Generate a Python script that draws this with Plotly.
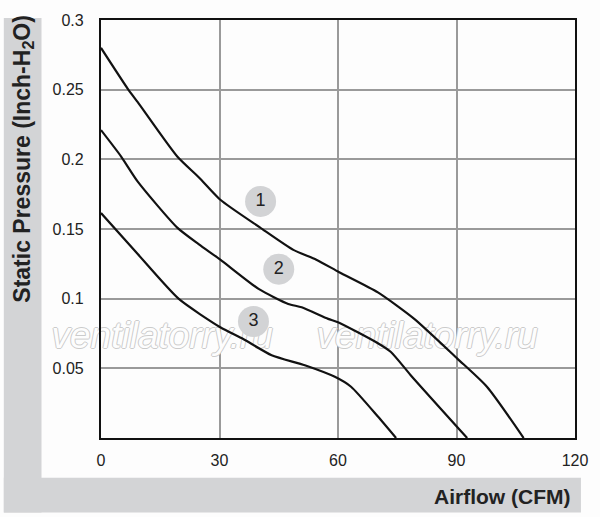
import plotly.graph_objects as go

# curve data (CFM vs inch H2O)
flow_1 = [0, 6.7, 9.3, 19.3, 24.8, 30.2, 40.3, 48.7, 54.5, 60.3, 70.1, 79.3, 90.2, 97.7, 107]
pres_1 = [0.28, 0.251, 0.241, 0.202, 0.187, 0.171, 0.151, 0.135, 0.128, 0.119, 0.1045, 0.0855, 0.057, 0.0368, 0.0]

flow_2 = [0, 5.1, 9.3, 19.3, 24.8, 30.2, 39.9, 47.4, 50.8, 57.5, 60, 70.1, 73.4, 78.4, 92.7]
pres_2 = [0.221, 0.202, 0.184, 0.151, 0.139, 0.128, 0.107, 0.0962, 0.0938, 0.0855, 0.0831, 0.068, 0.0617, 0.0451, 0.0]

flow_3 = [0, 9.3, 19.7, 30.2, 36, 43.2, 51.6, 59.2, 63.3, 70.1, 74.7]
pres_3 = [0.1615, 0.132, 0.0998, 0.0795, 0.071, 0.0594, 0.0522, 0.0439, 0.0368, 0.0154, 0.0]

label_names = ["1", "2", "3"]
label_x = [40.4, 45, 38.6]
label_y = [0.1698, 0.1212, 0.0836]

# watermark positions (in data units)
mark_x = [15.5, 82.6]
mark_y = [0.0715, 0.0715]

x_ticks = [0, 30, 60, 90, 120]
y_ticks = [0.05, 0.1, 0.15, 0.2, 0.25, 0.3]
y_tick_text = ["0.05", "0.1", "0.15", "0.2", "0.25", "0.3"]

W, H = 600, 517
L, R, T, B = 101, 21, 17, 79
band = "#d3d4d6"
FONT = "Liberation Sans, Arial"

def px(x):
    return (x - L) / (W - L - R)

def py(y):
    return (H - B - y) / (H - T - B)

fig = go.Figure()

# watermark first so the curves sit over it
fig.add_trace(go.Scatter(x=mark_x, y=mark_y, mode="text", text=["ventilatorry.ru"] * 2,
                         textposition="middle center", cliponaxis=False,
                         textfont=dict(family=FONT, size=37, color="#fdfdfd", style="italic",
                                       shadow="1px 0 0 #cbcbcb, -1px 0 0 #cbcbcb, 0 1px 0 #cbcbcb, 0 -1px 0 #cbcbcb"),
                         showlegend=False, hoverinfo="skip"))

for fx, fy in [(flow_1, pres_1), (flow_2, pres_2), (flow_3, pres_3)]:
    fig.add_trace(go.Scatter(x=fx, y=fy, mode="lines",
                             line=dict(color="#111111", width=2.2, shape="spline", smoothing=0.6),
                             showlegend=False, hoverinfo="skip"))

fig.add_trace(go.Scatter(x=label_x, y=label_y, mode="markers+text", text=label_names,
                         textposition="middle center",
                         marker=dict(size=31, color="#d2d3d5"),
                         textfont=dict(family=FONT, size=18, color="#222222"),
                         showlegend=False, hoverinfo="skip"))

# gray L-shaped bands behind the axis titles
fig.add_shape(type="rect", xref="paper", yref="paper", layer="below",
              x0=px(3), x1=px(41), y0=py(513), y1=py(15),
              fillcolor=band, line_width=0)
fig.add_shape(type="rect", xref="paper", yref="paper", layer="below",
              x0=px(3), x1=px(585), y0=py(513), y1=py(478),
              fillcolor=band, line_width=0)

fig.add_annotation(xref="paper", yref="paper", x=px(22), y=py(10), xanchor="center", yanchor="top",
                   text="<b>Static Pressure (Inch-H<sub>2</sub>O)</b>", textangle=-90,
                   showarrow=False, font=dict(family=FONT, size=23, color="#222222"))
fig.add_annotation(xref="paper", yref="paper", x=px(576), y=py(497), xanchor="right", yanchor="middle",
                   text="<b>Airflow (CFM)</b>", showarrow=False,
                   font=dict(family=FONT, size=21, color="#222222"))

fig.update_xaxes(range=[0, 120], tickvals=x_ticks, showgrid=True, gridcolor="#9a9a9a", gridwidth=1.5,
                 showline=True, mirror=True, linecolor="#111111", linewidth=2.2,
                 ticks="", ticklabelstandoff=7, zeroline=False,
                 tickfont=dict(family=FONT, size=16, color="#222222"))
fig.update_yaxes(range=[0, 0.3], tickvals=y_ticks, ticktext=y_tick_text, showgrid=True,
                 gridcolor="#9a9a9a", gridwidth=1.5,
                 showline=True, mirror=True, linecolor="#111111", linewidth=2.2,
                 ticks="", ticklabelstandoff=12, zeroline=False,
                 tickfont=dict(family=FONT, size=16, color="#222222"))

fig.update_layout(width=W, height=H, margin=dict(l=L, r=R, t=T, b=B),
                  paper_bgcolor="#fdfdfd", plot_bgcolor="#fdfdfd")

# no body margin so the figure fills the window exactly
fig.write_html("out.html", config={"displayModeBar": False},
               post_script="document.body.style.margin='0';")
